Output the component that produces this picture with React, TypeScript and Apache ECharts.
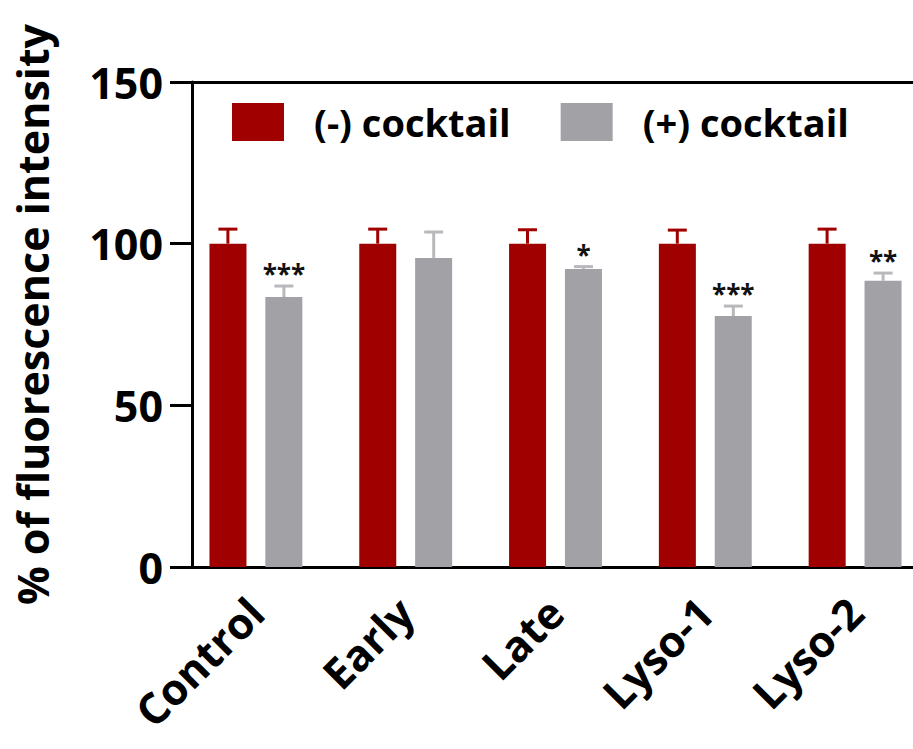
import React, { useEffect, useRef } from "react";
import * as echarts from "echarts";

const categories = ["Control", "Early", "Late", "Lyso-1", "Lyso-2"];
const minusMeans = [100, 100, 100, 100, 100];
const minusErr = [4.5, 4.5, 4.3, 4.2, 4.5];
const plusMeans = [83.5, 95.6, 92.2, 77.6, 88.5];
const plusErr = [3.4, 8.0, 0.7, 3.1, 2.4];
const significance = ["***", "", "*", "***", "**"];
const seriesNames = ["(-) cocktail", "(+) cocktail"];
const yTicks = { min: 0, max: 150, interval: 50 };

const RED = "#a00000";
const GRAY = "#a1a1a6";
const GRAY_ERR = "#b9b9bd";
const FONT = "Open Sans";

export default function App() {
  const ref = useRef<HTMLDivElement>(null);
  useEffect(() => {
    if (!ref.current) return;
    const chart = echarts.init(ref.current, undefined, { renderer: "svg" });
    const BAR_W = 37;
    const SHIFT = 28;
    const CAP = 9.5;

    const errSeries = (means: number[], errs: number[], side: number, color: string, sig: string[] | null) => ({
      type: "custom",
      xAxisIndex: 0,
      yAxisIndex: 0,
      z: 5,
      silent: true,
      data: means.map((m, i) => [i, m, errs[i]]),
      renderItem: (params: any, api: any) => {
        const i = api.value(0);
        const m = api.value(1);
        const e = api.value(2);
        const base = api.coord([i, m]);
        const top = api.coord([i, m + e]);
        const x = base[0] + side * SHIFT;
        const children: any[] = [
          { type: "line", shape: { x1: x, y1: base[1], x2: x, y2: top[1] }, style: { stroke: color, lineWidth: 3 } },
          { type: "line", shape: { x1: x - CAP, y1: top[1], x2: x + CAP, y2: top[1] }, style: { stroke: color, lineWidth: 3 } },
        ];
        if (sig && sig[params.dataIndex]) {
          children.push({
            type: "text",
            style: {
              x: x,
              y: top[1] - 12,
              text: sig[params.dataIndex],
              fill: "#111",
              font: `bold 26px "${FONT}"`,
              align: "center",
              verticalAlign: "middle",
            },
          });
        }
        return { type: "group", children };
      },
    });

    chart.setOption({
      animation: false,
      legend: {
        left: 232,
        top: 103,
        padding: 0,
        data: seriesNames,
        itemWidth: 52,
        itemHeight: 38,
        itemGap: 50,
        icon: "rect",
        textStyle: { fontFamily: FONT, fontWeight: "bold", fontSize: 38, color: "#000", padding: [0, 0, 0, 25] },
      },
      grid: { left: 181, top: 82, width: 749, height: 485, outerBoundsMode: "none", containLabel: false },
      xAxis: [
        {
          type: "category",
          data: categories,
          position: "bottom",
          axisLine: { lineStyle: { color: "#000", width: 3 } },
          axisTick: { alignWithLabel: true, length: 19, lineStyle: { color: "#000", width: 3 } },
          axisLabel: {
            interval: 0,
            rotate: 45,
            margin: 38,
            fontFamily: FONT,
            fontWeight: "bold",
            fontSize: 43,
            color: "#000",
          },
        },
        {
          type: "category",
          data: categories,
          position: "top",
          axisLine: { lineStyle: { color: "#000", width: 3 } },
          axisTick: { show: false },
          axisLabel: { show: false },
        },
      ],
      yAxis: {
        type: "value",
        min: yTicks.min,
        max: yTicks.max,
        interval: yTicks.interval,
        offset: -11,
        name: "% of fluorescence intensity",
        nameLocation: "middle",
        nameRotate: 90,
        nameGap: 138,
        nameTextStyle: { fontFamily: FONT, fontWeight: "bold", fontSize: 43, color: "#000", padding: [0, 0, 0, 20] },
        axisLine: { show: true, lineStyle: { color: "#000", width: 3 } },
        axisTick: { show: true, length: 22, lineStyle: { color: "#000", width: 3 } },
        axisLabel: { margin: 29, fontFamily: FONT, fontWeight: "bold", fontSize: 43, color: "#000" },
        splitLine: { show: false },
      },
      series: [
        {
          name: seriesNames[0],
          type: "bar",
          data: minusMeans,
          barWidth: BAR_W,
          barGap: "51%",
          itemStyle: { color: RED },
        },
        {
          name: seriesNames[1],
          type: "bar",
          data: plusMeans,
          barWidth: BAR_W,
          barGap: "51%",
          itemStyle: { color: GRAY },
        },
        errSeries(minusMeans, minusErr, -1, RED, null),
        errSeries(plusMeans, plusErr, 1, GRAY_ERR, significance),
      ],
    });
    return () => chart.dispose();
  }, []);
  return (
    <div style={{ position: "absolute", left: 0, top: 0, width: 913, height: 749, overflow: "hidden", background: "#fff" }}>
      <div ref={ref} style={{ width: 940, height: 749 }} />
    </div>
  );
}
